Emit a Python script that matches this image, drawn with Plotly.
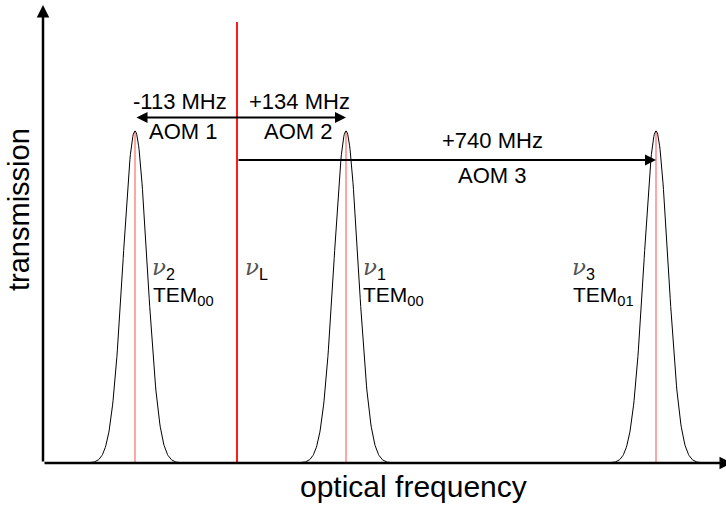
import numpy as np
import plotly.graph_objects as go

# ---- data (schematic units: frequency axis and transmission axis) ----
peak_centers = [92, 303, 613]          # ν2, ν1, ν3 positions along optical frequency
peak_heights = [332, 332, 332]         # transmission peak heights
peak_sigma = 12                        # peak width (gaussian sigma)
laser_freq = 194                       # ν_L
laser_height = 441                     # height of laser marker line
freq_max = 689                         # end of frequency axis arrow
trans_max = 458                        # end of transmission axis arrow

shift_labels = ["-113 MHz", "+134 MHz", "+740 MHz"]
aom_labels = ["AOM 1", "AOM 2", "AOM 3"]
nu_subs = ["2", "L", "1", "3"]
mode_labels = ["00", "00", "01"]

FONT = "Liberation Sans, Arial, sans-serif"

def px(x):  # pixel -> data x
    return x - 43

def py(y):  # pixel -> data y
    return 463 - y

fig = go.Figure()

# thin red center lines of each peak
for c, h in zip(peak_centers, peak_heights):
    fig.add_trace(go.Scatter(x=[c, c], y=[0, h], mode="lines",
                             line=dict(color="#ff4d4d", width=1), hoverinfo="skip"))

# laser line
fig.add_trace(go.Scatter(x=[laser_freq, laser_freq], y=[0, laser_height], mode="lines",
                         line=dict(color="#ff1a1a", width=2), hoverinfo="skip"))

# gaussian transmission peaks
for c, h in zip(peak_centers, peak_heights):
    xs = np.linspace(c - 4 * peak_sigma, c + 4 * peak_sigma, 200)
    ys = h * np.exp(-0.5 * ((xs - c) / peak_sigma) ** 2)
    fig.add_trace(go.Scatter(x=xs, y=ys, mode="lines",
                             line=dict(color="black", width=1), hoverinfo="skip"))

ann = []
# axes with arrows
ann.append(dict(x=0, y=trans_max, ax=0, ay=0, xref="x", yref="y", axref="x", ayref="y",
                showarrow=True, arrowhead=2, arrowwidth=2.5, arrowsize=1, arrowcolor="black",
                text="", standoff=0, startstandoff=0))
ann.append(dict(x=freq_max, y=0, ax=0, ay=0, xref="x", yref="y", axref="x", ayref="y",
                showarrow=True, arrowhead=2, arrowwidth=2.5, arrowsize=1, arrowcolor="black",
                text="", standoff=0, startstandoff=0))
# AOM 1/2 double arrow
ann.append(dict(x=peak_centers[1], y=py(117.5), ax=peak_centers[0], ay=py(117.5),
                xref="x", yref="y", axref="x", ayref="y",
                showarrow=True, arrowhead=2, startarrowhead=2, arrowside="end+start",
                arrowwidth=2, arrowsize=1.1, startarrowsize=1.1, arrowcolor="black",
                text="", standoff=0, startstandoff=0))
# AOM 3 arrow
ann.append(dict(x=peak_centers[2], y=py(160), ax=laser_freq, ay=py(160),
                xref="x", yref="y", axref="x", ayref="y",
                showarrow=True, arrowhead=2, arrowwidth=2, arrowsize=1.1, arrowcolor="black",
                text="", standoff=0, startstandoff=0))

def txt(x, y, s, size=22, xanchor="center", **kw):
    d = dict(x=px(x), y=py(y), xref="x", yref="y", text=s, showarrow=False,
             xanchor=xanchor, yanchor="middle",
             font=dict(family=FONT, size=size, color="black"))
    d.update(kw)
    return d

ann.append(txt(180, 101, shift_labels[0]))
ann.append(txt(299, 101, shift_labels[1]))
ann.append(txt(492, 140, shift_labels[2]))
ann.append(txt(183, 131, aom_labels[0]))
ann.append(txt(298, 131, aom_labels[1]))
ann.append(txt(492, 175, aom_labels[2]))

def nu(sub):
    return ('<span style="font-family:DejaVu Serif;font-style:italic;color:#555555">ν</span>'
            '<sub>' + sub + '</sub>')

for xl, sub in zip([151, 244, 362, 571], nu_subs):
    ann.append(txt(xl, 268, nu(sub), size=23, xanchor="left", borderpad=0))
for xl, m in zip([152, 362, 572], mode_labels):
    ann.append(txt(xl, 296, "TEM<sub>" + m + "</sub>", size=21, xanchor="left", borderpad=0))

# axis titles
ann.append(dict(x=413, y=486, xref="paper", yref="paper", text="optical frequency",
                showarrow=False, xanchor="center", yanchor="middle",
                font=dict(family=FONT, size=30, color="black")))
ann.append(dict(x=19, y=210, xref="paper", yref="paper", text="transmission",
                showarrow=False, xanchor="center", yanchor="middle", textangle=-90,
                font=dict(family=FONT, size=29, color="black")))

# convert axis-title positions from pixels to paper coordinates
W, H = 726, 505
L, R, T, B = 43, 0, 5, 42
for a in ann[-2:]:
    a["x"] = (a["x"] - L) / (W - L - R)
    a["y"] = (H - B - a["y"]) / (H - T - B)

fig.update_layout(
    width=W, height=H,
    margin=dict(l=L, r=R, t=T, b=B, autoexpand=False),
    plot_bgcolor="white", paper_bgcolor="white",
    showlegend=False,
    xaxis=dict(range=[0, W - L - R], visible=False, fixedrange=True),
    yaxis=dict(range=[0, H - T - B], visible=False, fixedrange=True),
    annotations=ann,
)

fig.write_html("out.html", config={"displayModeBar": False},
               post_script="document.body.style.margin='0';document.body.style.overflow='hidden';")
